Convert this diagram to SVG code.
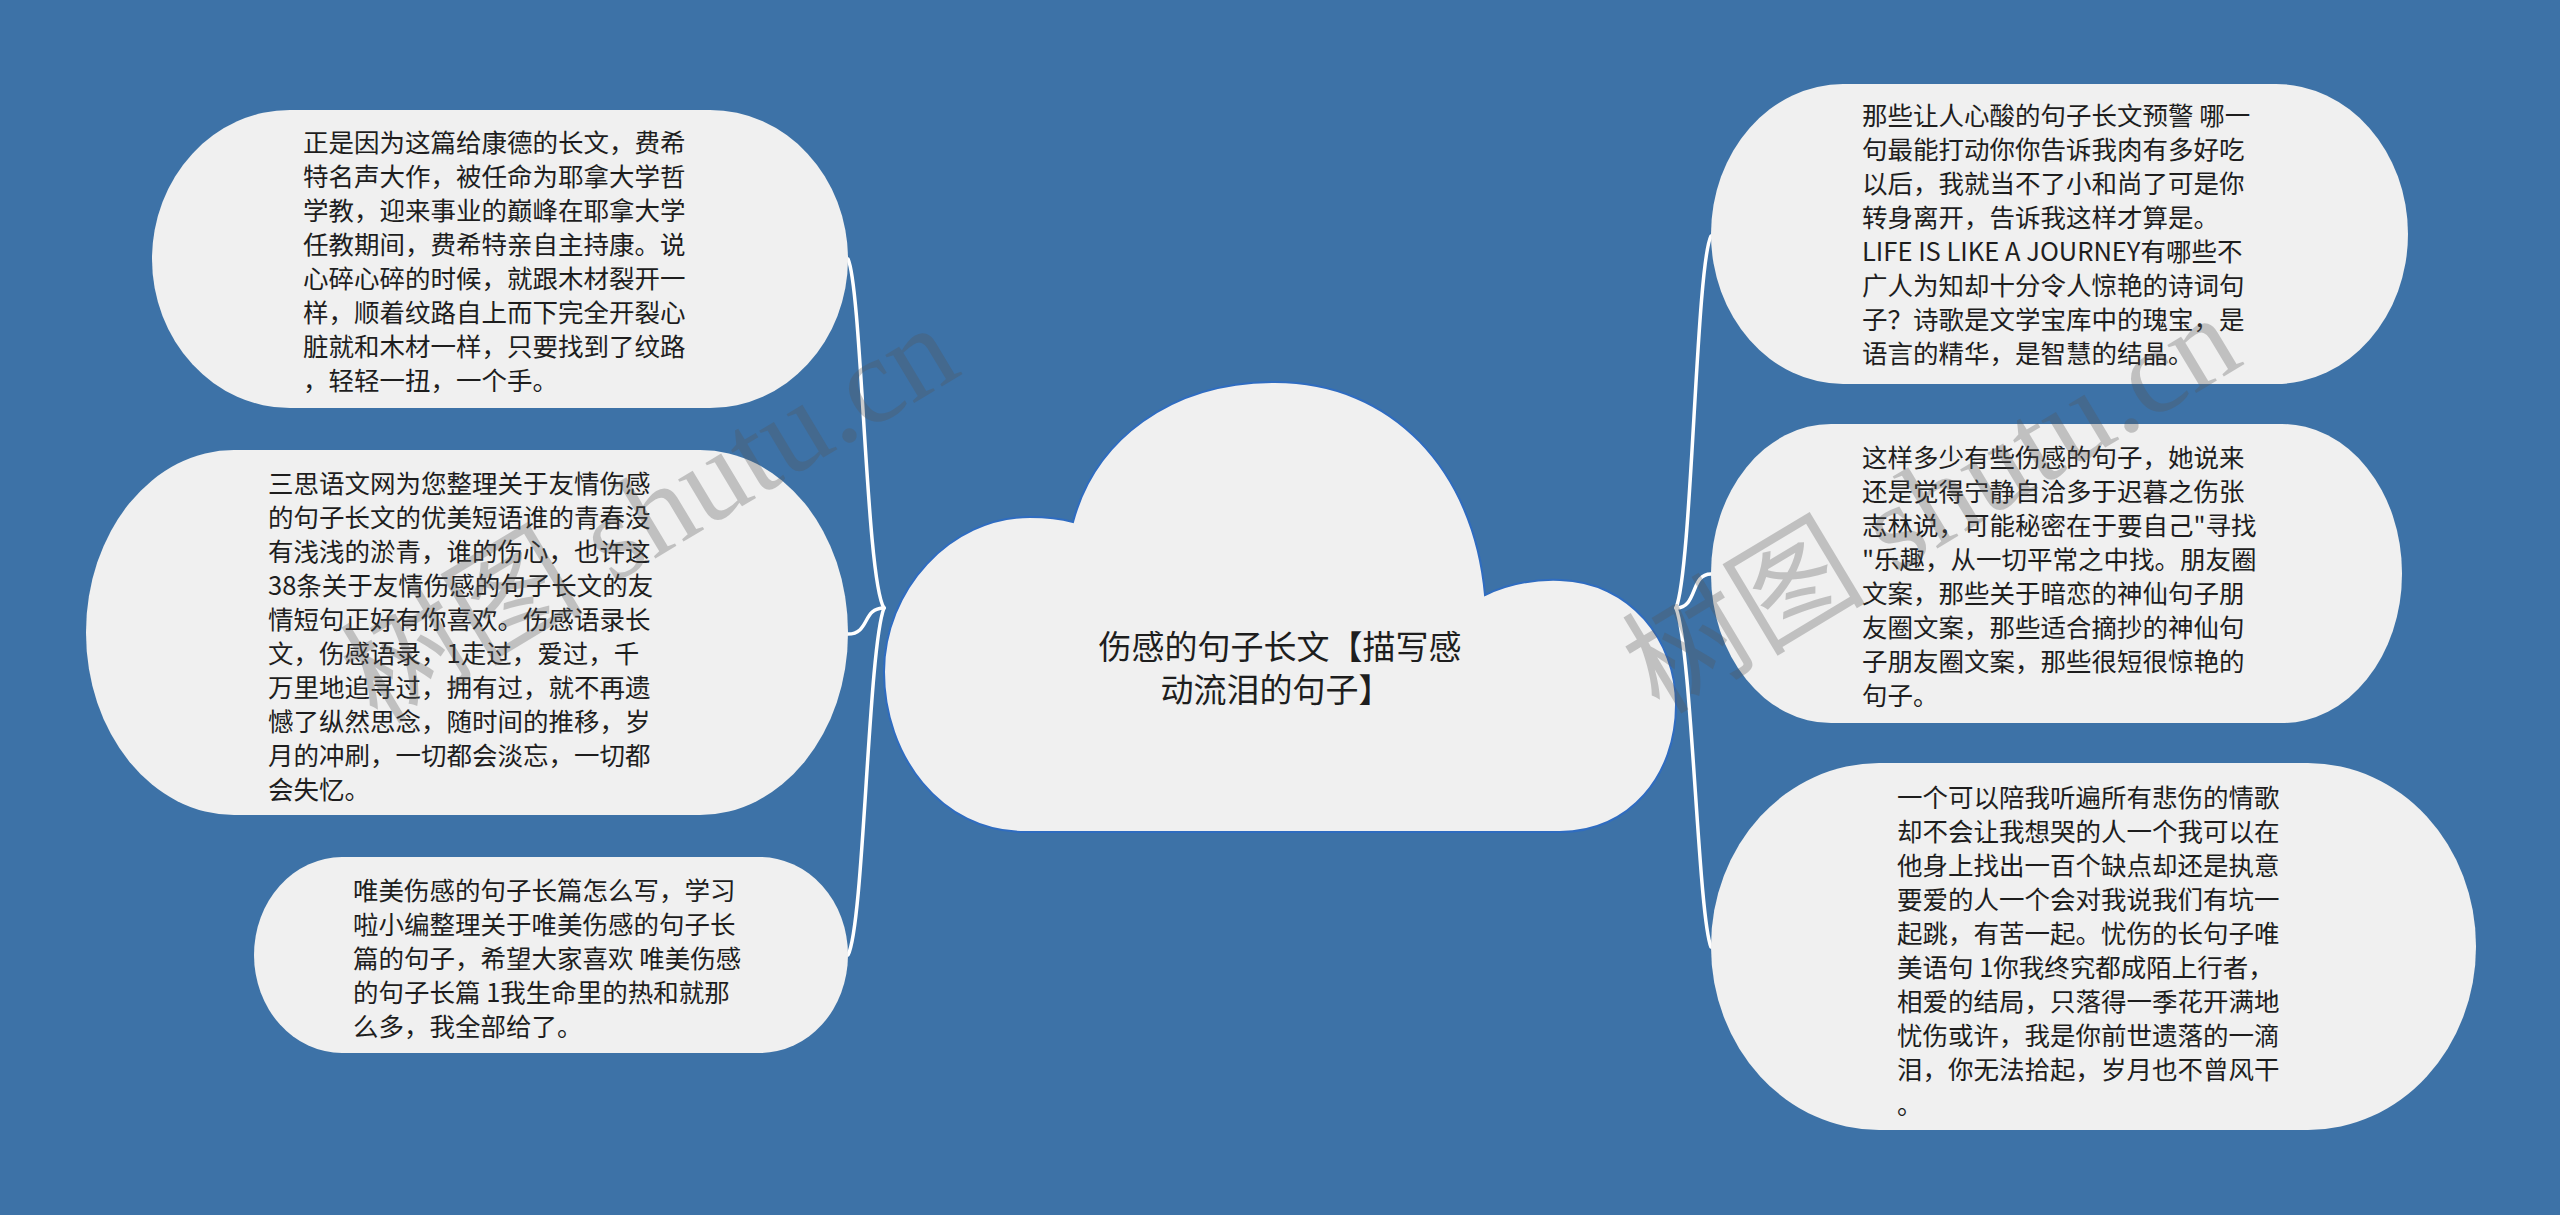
<svg xmlns="http://www.w3.org/2000/svg" width="2560" height="1215" viewBox="0 0 2560 1215">
<style>
.bg{fill:#3d72a7}
.node{fill:#f0f0f0}
.cloud{fill:#f0f0f0;stroke:#2f6cc0;stroke-width:2}
.t{font-family:"Noto Sans CJK SC","Noto Sans",sans-serif;font-size:25.5px;fill:#1e1e1e}
.tc{font-family:"Noto Sans CJK SC","Noto Sans",sans-serif;font-size:33px;fill:#1e1e1e;text-anchor:middle}
.link{fill:none;stroke:#ffffff;stroke-width:3.5;stroke-linecap:round}
.wm{font-family:"Liberation Serif","Noto Sans CJK SC",serif;font-size:122px;fill:#555;opacity:0.3;text-anchor:middle}
</style>
<rect class="bg" x="0" y="0" width="2560" height="1215"/>

<g id="connectors">
<path class="link" d="M 884 608 C 866 580 862 290 848 259"/>
<path class="link" d="M 884 608 C 862 608 870 634 848 634"/>
<path class="link" d="M 884 608 C 868 650 864 925 848 955"/>
<path class="link" d="M 1676 608 C 1692 570 1696 265 1711 236"/>
<path class="link" d="M 1676 608 C 1698 608 1690 574 1711 574"/>
<path class="link" d="M 1676 608 C 1692 650 1698 915 1711 947"/>
</g>

<g id="center">
<path class="cloud" d="M 1025 832 C 940 832 884 755 884 672 C 884 590 950 517 1030 517 C 1048 517 1062 519 1073 522 C 1095 440 1170 382 1275 382 C 1392 382 1474 470 1485 595 C 1508 584 1534 579 1560 580 C 1630 582 1676 640 1676 705 C 1676 775 1630 832 1560 832 Z"/>
<text class="tc" x="1280" y="659">伤感的句子长文【描写感</text>
<text class="tc" x="1276" y="702">动流泪的句子】</text>
</g>

<g id="node-l1">
<rect class="node" x="152" y="110" width="696" height="298" rx="138" ry="149"/>
<text class="t" x="303" y="152">
<tspan x="303">正是因为这篇给康德的长文，费希</tspan>
<tspan x="303" dy="34">特名声大作，被任命为耶拿大学哲</tspan>
<tspan x="303" dy="34">学教，迎来事业的巅峰在耶拿大学</tspan>
<tspan x="303" dy="34">任教期间，费希特亲自主持康。说</tspan>
<tspan x="303" dy="34">心碎心碎的时候，就跟木材裂开一</tspan>
<tspan x="303" dy="34">样，顺着纹路自上而下完全开裂心</tspan>
<tspan x="303" dy="34">脏就和木材一样，只要找到了纹路</tspan>
<tspan x="303" dy="34">，轻轻一扭，一个手。</tspan>
</text>
</g>

<g id="node-l2">
<rect class="node" x="86" y="450" width="762" height="365" rx="148" ry="182"/>
<text class="t" x="268" y="493">
<tspan x="268">三思语文网为您整理关于友情伤感</tspan>
<tspan x="268" dy="34">的句子长文的优美短语谁的青春没</tspan>
<tspan x="268" dy="34">有浅浅的淤青，谁的伤心，也许这</tspan>
<tspan x="268" dy="34">38条关于友情伤感的句子长文的友</tspan>
<tspan x="268" dy="34">情短句正好有你喜欢。伤感语录长</tspan>
<tspan x="268" dy="34">文，伤感语录，1走过，爱过，千</tspan>
<tspan x="268" dy="34">万里地追寻过，拥有过，就不再遗</tspan>
<tspan x="268" dy="34">憾了纵然思念，随时间的推移，岁</tspan>
<tspan x="268" dy="34">月的冲刷，一切都会淡忘，一切都</tspan>
<tspan x="268" dy="34">会失忆。</tspan>
</text>
</g>

<g id="node-l3">
<rect class="node" x="254" y="857" width="594" height="196" rx="88" ry="98"/>
<text class="t" x="353" y="900">
<tspan x="353">唯美伤感的句子长篇怎么写，学习</tspan>
<tspan x="353" dy="34">啦小编整理关于唯美伤感的句子长</tspan>
<tspan x="353" dy="34">篇的句子，希望大家喜欢 唯美伤感</tspan>
<tspan x="353" dy="34">的句子长篇 1我生命里的热和就那</tspan>
<tspan x="353" dy="34">么多，我全部给了。</tspan>
</text>
</g>

<g id="node-r1">
<rect class="node" x="1711" y="84" width="697" height="300" rx="132" ry="150"/>
<text class="t" x="1862" y="125">
<tspan x="1862">那些让人心酸的句子长文预警 哪一</tspan>
<tspan x="1862" dy="34">句最能打动你你告诉我肉有多好吃</tspan>
<tspan x="1862" dy="34">以后，我就当不了小和尚了可是你</tspan>
<tspan x="1862" dy="34">转身离开，告诉我这样才算是。</tspan>
<tspan x="1862" dy="34">LIFE IS LIKE A JOURNEY有哪些不</tspan>
<tspan x="1862" dy="34">广人为知却十分令人惊艳的诗词句</tspan>
<tspan x="1862" dy="34">子？诗歌是文学宝库中的瑰宝，是</tspan>
<tspan x="1862" dy="34">语言的精华，是智慧的结晶。</tspan>
</text>
</g>

<g id="node-r2">
<rect class="node" x="1711" y="424" width="691" height="299" rx="120" ry="149"/>
<text class="t" x="1862" y="467">
<tspan x="1862">这样多少有些伤感的句子，她说来</tspan>
<tspan x="1862" dy="34">还是觉得宁静自洽多于迟暮之伤张</tspan>
<tspan x="1862" dy="34">志林说，可能秘密在于要自己"寻找</tspan>
<tspan x="1862" dy="34">"乐趣，从一切平常之中找。朋友圈</tspan>
<tspan x="1862" dy="34">文案，那些关于暗恋的神仙句子朋</tspan>
<tspan x="1862" dy="34">友圈文案，那些适合摘抄的神仙句</tspan>
<tspan x="1862" dy="34">子朋友圈文案，那些很短很惊艳的</tspan>
<tspan x="1862" dy="34">句子。</tspan>
</text>
</g>

<g id="node-r3">
<rect class="node" x="1711" y="763" width="765" height="367" rx="168" ry="183"/>
<text class="t" x="1897" y="807">
<tspan x="1897">一个可以陪我听遍所有悲伤的情歌</tspan>
<tspan x="1897" dy="34">却不会让我想哭的人一个我可以在</tspan>
<tspan x="1897" dy="34">他身上找出一百个缺点却还是执意</tspan>
<tspan x="1897" dy="34">要爱的人一个会对我说我们有坑一</tspan>
<tspan x="1897" dy="34">起跳，有苦一起。忧伤的长句子唯</tspan>
<tspan x="1897" dy="34">美语句 1你我终究都成陌上行者，</tspan>
<tspan x="1897" dy="34">相爱的结局，只落得一季花开满地</tspan>
<tspan x="1897" dy="34">忧伤或许，我是你前世遗落的一滴</tspan>
<tspan x="1897" dy="34">泪，你无法拾起，岁月也不曾风干</tspan>
<tspan x="1897" dy="35">。</tspan>
</text>
</g>

<g id="watermark">
<text class="wm" transform="translate(650 515) rotate(-31)" x="0" y="40">树图 shutu.cn</text>
<text class="wm" transform="translate(1932 505) rotate(-31)" x="0" y="40">树图 shutu.cn</text>
</g>
</svg>
